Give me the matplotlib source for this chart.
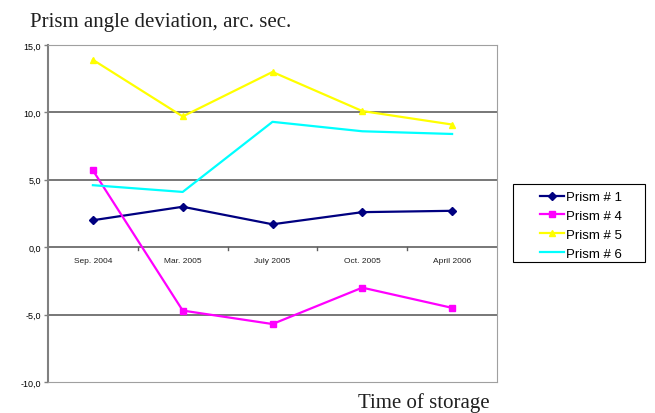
import matplotlib.pyplot as plt
from matplotlib.patches import Rectangle
import numpy as np

dates = ['Sep. 2004', 'Mar. 2005', 'July 2005', 'Oct. 2005', 'April 2006']
prism1 = [2.0, 3.0, 1.7, 2.6, 2.7]
prism4 = [5.7, -4.7, -5.7, -3.0, -4.5]
prism5 = [13.9, 9.7, 13.0, 10.1, 9.1]
prism6 = [4.6, 4.1, 9.3, 8.6, 8.4]

plt.rcParams['font.family'] = ['Liberation Sans', 'DejaVu Sans']

W, H = 655, 414
fig = plt.figure(figsize=(W/100, H/100), dpi=100)
ax = fig.add_axes([48/W, 31/H, 449/W, 337/H])

x = np.arange(len(dates))
ax.plot(x, prism1, color='#000080', marker='D', markersize=4, lw=1.6, label='Prism # 1')
ax.plot(x, prism4, color='#FF00FF', marker='s', markersize=5, lw=1.6, label='Prism # 4')
ax.plot(x, prism5, color='#FFFF00', marker='^', markersize=5, lw=1.6, label='Prism # 5')
ax.plot(x, prism6, color='#00FFFF', lw=1.6, label='Prism # 6')

ax.set_xlim(-0.5, len(dates) - 0.5)
ax.set_ylim(-10, 15)
yt = [-10, -5, 0, 5, 10, 15]
ax.set_yticks(yt)
ax.set_yticklabels([('%.1f' % v).replace('.', ',') for v in yt], fontsize=6.5)
ax.tick_params(axis='y', length=3, width=1, color='#808080', pad=2)
for v in [-5, 5, 10]:
    ax.axhline(v, color='#606060', lw=1.2, zorder=0)
ax.axhline(0, color='#606060', lw=1.2, zorder=0)

# category labels under the zero line, ticks between categories
ax.set_xticks([])
for i, d in enumerate(dates):
    ax.text(i, -0.7, d, ha='center', va='top', fontsize=6, color='#202020')
for i in range(len(dates) - 1):
    ax.plot([i + 0.5, i + 0.5], [0, -0.2], color='#606060', lw=1)

for s in ['top', 'right', 'bottom']:
    ax.spines[s].set_color('#a0a0a0')
ax.spines['left'].set_color('#808080')
ax.spines['left'].set_linewidth(1.5)

# legend box drawn separately (wide padding like the original)
fig.patches.append(Rectangle((513/W, 1 - 263/H), 132/W, 78/H, transform=fig.transFigure,
                             fill=False, edgecolor='black', lw=0.8))
fig.legend(loc='upper left', bbox_to_anchor=(540/W, 1 - 192/H), fontsize=9.5,
           frameon=False, handlelength=1.8, borderpad=0, labelspacing=0.5,
           handletextpad=0.15, borderaxespad=0)

fig.text(30/W, 1 - 22/H, 'Prism angle deviation, arc. sec.', fontsize=15,
         family='Liberation Serif', va='center', color='#202020')
fig.text(424/W, 1 - 403/H, 'Time of storage', fontsize=15,
         family='Liberation Serif', va='center', ha='center', color='#202020')

fig.savefig('out.png', dpi=100)
